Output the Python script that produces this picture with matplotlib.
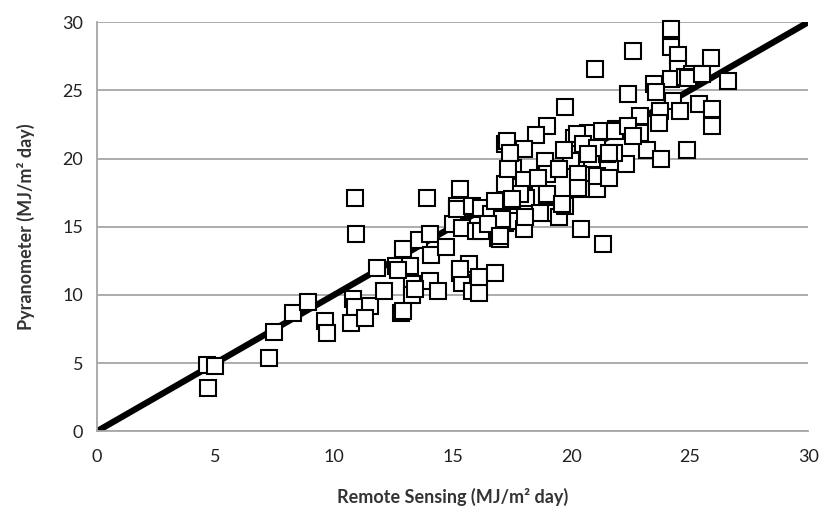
import matplotlib
matplotlib.use('Agg')
import matplotlib.pyplot as plt

# remote sensing estimate vs pyranometer (MJ/m2 day)
remote = [
    4.64, 4.98, 4.68, 7.26, 7.47, 8.27, 8.9, 9.62, 9.7,
    10.9, 10.93, 13.9, 15.3, 11.8, 10.8, 10.9, 11.5, 10.7, 11.3, 12.1, 12.8, 12.6, 12.9,
    13.2, 13.3, 13.3, 13.6, 14.05, 14.1, 14.05, 14.4, 14.7, 15.0, 15.2, 15.4, 15.3, 15.4,
    15.7, 15.8,
    15.2, 15.8, 16.3, 16.0, 16.9, 17.2, 17.5, 17.2, 17.5, 12.7, 15.3, 13.4, 12.9,
    16.1, 16.1, 16.8, 20.4, 21.35, 16.2, 17.0, 17.55, 17.1, 18.0, 18.1, 17.4, 19.0, 19.1,
    19.5, 19.75, 20.4, 21.1, 16.2, 16.6,
    21.0, 19.75, 19.0, 18.5, 17.3, 18.0, 18.9, 17.55, 20.0, 20.7, 21.3, 20.1, 20.9, 21.5,
    24.2, 22.6, 24.2, 24.5, 25.9, 24.5, 25.1, 26.6, 24.2, 24.8, 23.5, 22.4, 23.6, 24.3,
    25.4, 25.95, 25.95, 23.75, 22.9, 21.9, 22.9, 23.7, 23.2, 23.8, 24.9, 22.3, 21.8,
    24.95, 25.5, 24.6,
    17.4, 20.25, 21.85, 22.4, 22.6, 20.5, 21.1, 21.6, 20.7, 19.7, 19.0, 19.5, 20.3, 21.1,
    21.6, 20.3, 18.0, 18.6, 19.0, 19.6, 18.7, 17.85, 17.2, 17.35, 17.5, 16.8, 17.1, 16.5,
    17.0, 18.05,
]
pyrano = [
    4.83, 4.75, 3.2, 5.4, 7.25, 8.7, 9.45, 8.1, 7.2,
    17.1, 14.5, 17.1, 17.8, 12.0, 9.7, 9.1, 9.2, 7.9, 8.3, 10.3, 8.7, 12.1, 13.4,
    12.1, 10.8, 10.0, 14.0, 14.5, 12.9, 11.0, 10.3, 13.5, 15.2, 16.5, 14.9, 11.6, 10.9,
    12.3, 10.3,
    16.3, 16.5, 16.3, 14.7, 14.2, 15.3, 16.5, 21.1, 19.1, 11.8, 11.9, 10.4, 8.85,
    10.1, 11.3, 11.6, 14.8, 13.75, 14.7, 14.1, 15.4, 15.4, 14.85, 17.1, 16.9, 17.3, 16.0,
    15.7, 16.5, 17.8, 17.8, 16.4, 15.9,
    26.6, 23.8, 22.4, 21.7, 21.3, 20.7, 19.8, 19.3, 19.8, 21.9, 22.0, 21.5, 20.0, 20.3,
    29.5, 27.9, 28.2, 27.6, 27.4, 26.6, 26.2, 25.7, 25.8, 26.0, 25.45, 24.7, 24.9, 24.2,
    24.0, 23.6, 22.4, 23.5, 23.1, 22.2, 21.9, 22.6, 20.6, 20.0, 20.6, 19.6, 20.4,
    25.9, 26.2, 23.5,
    20.4, 21.8, 22.0, 22.4, 21.65, 21.1, 20.8, 20.4, 20.3, 20.6, 18.9, 19.2, 18.9, 18.7,
    18.6, 17.85, 18.4, 18.6, 17.4, 16.7, 16.0, 17.4, 18.1, 19.2, 17.0, 16.9, 15.6, 15.2,
    14.3, 15.7,
]
one_to_one = [0, 30]
ticks = [0, 5, 10, 15, 20, 25, 30]

plt.rcParams['font.family'] = ['Lato', 'DejaVu Sans']

fig = plt.figure(figsize=(8.23, 5.17), dpi=100)
ax = fig.add_axes([0.118, 0.166, 0.864, 0.791])

ax.plot(one_to_one, one_to_one, color='black', linewidth=4.5, solid_capstyle='round', zorder=2)
ax.plot(remote, pyrano, linestyle='none', marker='s', markersize=12,
        markerfacecolor='white', markeredgecolor='black', markeredgewidth=1.5,
        zorder=3, clip_on=False)

ax.set_xlim(0, 30)
ax.set_ylim(0, 30)
ax.set_xticks(ticks)
ax.set_yticks(ticks)
ax.yaxis.grid(True, color='#a6a6a6', linewidth=1.3)
ax.set_axisbelow(True)
for s in ['top', 'right']:
    ax.spines[s].set_visible(False)
for s in ['left', 'bottom']:
    ax.spines[s].set_color('#a6a6a6')
    ax.spines[s].set_linewidth(1.3)
ax.tick_params(length=0, labelsize=13, colors='#222222', pad=10)
ax.tick_params(axis='x', pad=13)

ax.set_xlabel('Remote Sensing (MJ/m² day)', fontsize=13, fontweight='bold', color='#333333', labelpad=16)
ax.set_ylabel('Pyranometer (MJ/m² day)', fontsize=13, fontweight='bold', color='#333333', labelpad=20)

plt.savefig('out.png', dpi=100)
plt.close()
